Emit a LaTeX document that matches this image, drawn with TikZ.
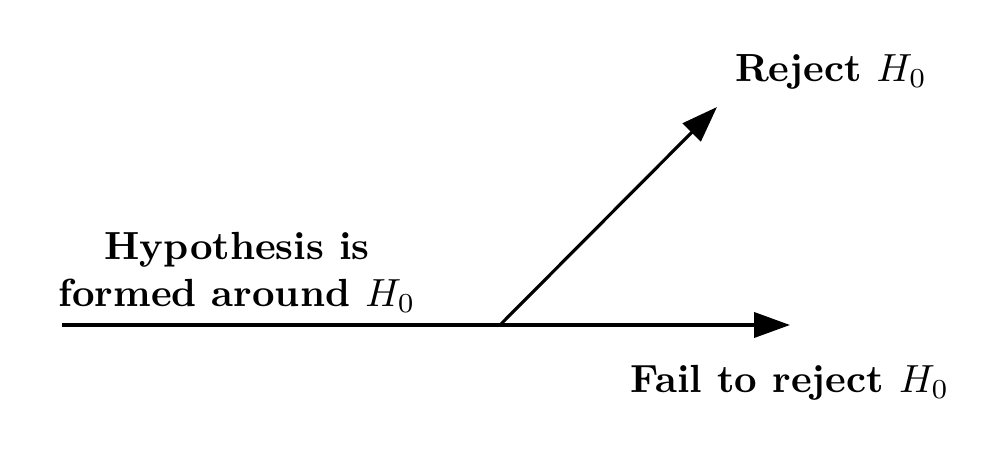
\documentclass[tikz,border=0pt]{standalone}
\usetikzlibrary{arrows.meta}
\begin{document}
\begin{tikzpicture}[x=0.27pt,y=-0.27pt,
  conn/.style={line width=0.85pt,-{Triangle[length=9.7pt,width=6.8pt]}},
  lab/.style={font=\bfseries,align=center,inner sep=0pt,scale=1.06}]
\useasboundingbox (0,0) rectangle (1008,458);
\coordinate (start) at (62,325);
\coordinate (branch) at (500,325);
\coordinate (fail) at (790,325);
\coordinate (rej) at (717,107);
\draw[line width=0.85pt] (start) -- (branch);
\draw[conn] (branch) -- (fail);
\draw[conn] (branch) -- (rej);
\node[lab] (hyp) at (237,272) {Hypothesis is\\formed around $H_0$};
\node[lab] (rejl) at (831,72) {Reject $H_0$};
\node[lab] (faill) at (790,383) {Fail to reject $H_0$};
\end{tikzpicture}
\end{document}
